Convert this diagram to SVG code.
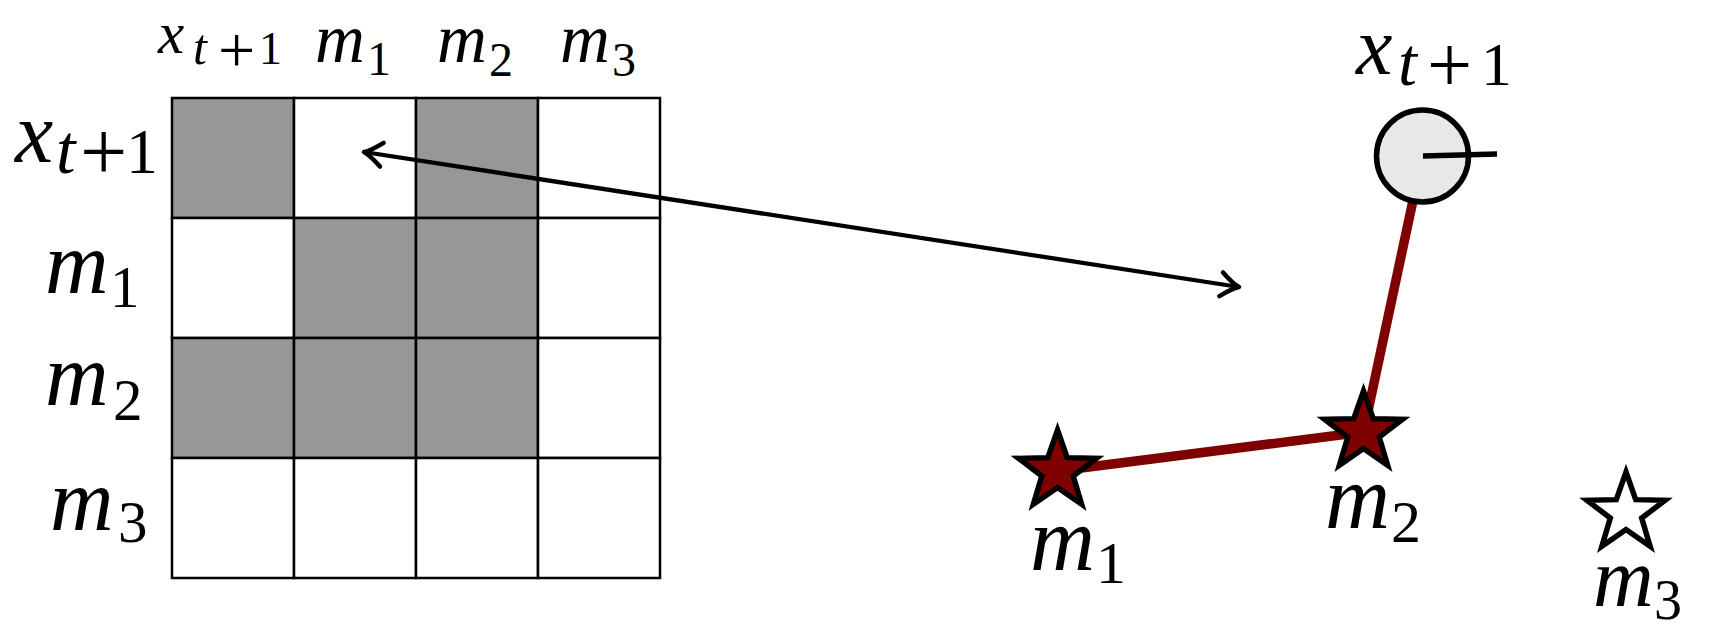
<svg xmlns="http://www.w3.org/2000/svg" width="1715" height="634" viewBox="0 0 1715 634">
  <style>
    .lbl { font-family: "Liberation Serif", "Times New Roman", serif; fill: #000; }
    .it { font-style: italic; }
    .cell { stroke: #000; stroke-width: 2.5; }
    .gray { fill: #979797; }
    .white { fill: #ffffff; }
    .red { stroke: #7f0000; stroke-width: 9.5; fill: none; stroke-linecap: butt; }
    .arrow { stroke: #000; stroke-width: 4.3; fill: none; marker-start: url(#tip); marker-end: url(#tip); }
    .star { stroke: #000; stroke-width: 5.5; stroke-linejoin: miter; }
    .starred { fill: #7f0000; }
    .starwhite { fill: #ffffff; }
    .node { fill: #e8e8e8; stroke: #000; stroke-width: 5.5; }
    .spoke { stroke: #000; stroke-width: 5.5; fill: none; }
  </style>
  <defs>
    <marker id="tip" markerUnits="userSpaceOnUse" viewBox="-22 -15 26 30" refX="0" refY="0" markerWidth="26" markerHeight="30" orient="auto-start-reverse">
      <path d="M-18,-12 Q-6,-2 0,0 Q-6,2 -18,12" fill="none" stroke="#000" stroke-width="4.5" stroke-linecap="round" stroke-linejoin="round"/>
    </marker>
    <path id="star" d="M0,-41 L9.70,-13.35 L38.99,-12.67 L15.69,5.10 L24.10,33.17 L0,16.5 L-24.10,33.17 L-15.69,5.10 L-38.99,-12.67 L-9.70,-13.35 Z"/>
  </defs>
  <rect x="0" y="0" width="1715" height="634" fill="#ffffff"/>

  <!-- matrix -->
  <g id="matrix">
    <rect class="cell gray" x="172" y="98" width="122" height="120"/>
    <rect class="cell white" x="294" y="98" width="122" height="120"/>
    <rect class="cell gray" x="416" y="98" width="122" height="120"/>
    <rect class="cell white" x="538" y="98" width="122" height="120"/>

    <rect class="cell white" x="172" y="218" width="122" height="120"/>
    <rect class="cell gray" x="294" y="218" width="122" height="120"/>
    <rect class="cell gray" x="416" y="218" width="122" height="120"/>
    <rect class="cell white" x="538" y="218" width="122" height="120"/>

    <rect class="cell gray" x="172" y="338" width="122" height="120"/>
    <rect class="cell gray" x="294" y="338" width="122" height="120"/>
    <rect class="cell gray" x="416" y="338" width="122" height="120"/>
    <rect class="cell white" x="538" y="338" width="122" height="120"/>

    <rect class="cell white" x="172" y="458" width="122" height="120"/>
    <rect class="cell white" x="294" y="458" width="122" height="120"/>
    <rect class="cell white" x="416" y="458" width="122" height="120"/>
    <rect class="cell white" x="538" y="458" width="122" height="120"/>
  </g>

  <!-- matrix column headers -->
  <g id="col-x">
    <text class="lbl"><tspan class="it" x="158" y="53" font-size="59">x</tspan><tspan class="it" x="193" y="64" font-size="50">t</tspan><tspan x="218" y="72" font-size="66">+</tspan><tspan x="259" y="64" font-size="46">1</tspan></text>
  </g>
  <g id="col-m1">
    <text class="lbl"><tspan class="it" x="315" y="62" font-size="69">m</tspan><tspan x="367" y="75" font-size="48">1</tspan></text>
  </g>
  <g id="col-m2">
    <text class="lbl"><tspan class="it" x="437" y="62" font-size="69">m</tspan><tspan x="489" y="76" font-size="48">2</tspan></text>
  </g>
  <g id="col-m3">
    <text class="lbl"><tspan class="it" x="560" y="62" font-size="69">m</tspan><tspan x="612" y="76" font-size="48">3</tspan></text>
  </g>

  <!-- matrix row headers -->
  <g id="row-x">
    <text class="lbl"><tspan class="it" x="15" y="162" font-size="86">x</tspan><tspan class="it" x="56" y="173" font-size="70">t</tspan><tspan x="80" y="180" font-size="84">+</tspan><tspan x="126" y="173" font-size="64">1</tspan></text>
  </g>
  <g id="row-m1">
    <text class="lbl"><tspan class="it" x="45" y="293" font-size="88">m</tspan><tspan x="110" y="307" font-size="59">1</tspan></text>
  </g>
  <g id="row-m2">
    <text class="lbl"><tspan class="it" x="45" y="405" font-size="88">m</tspan><tspan x="113" y="420" font-size="59">2</tspan></text>
  </g>
  <g id="row-m3">
    <text class="lbl"><tspan class="it" x="50" y="530" font-size="88">m</tspan><tspan x="118" y="542" font-size="59">3</tspan></text>
  </g>

  <!-- connectors -->
  <g id="connectors">
    <line class="arrow" x1="364" y1="152" x2="1239" y2="287"/>
    <line class="red" x1="1057.5" y1="471" x2="1363.5" y2="432"/>
    <line class="red" x1="1363.5" y1="432" x2="1422.5" y2="156"/>
  </g>

  <!-- state node x_{t+1} -->
  <g id="node-x">
    <circle class="node" cx="1422.5" cy="156" r="46"/>
    <line class="spoke" x1="1423" y1="156" x2="1497" y2="154"/>
    <text class="lbl"><tspan class="it" x="1356" y="74" font-size="82">x</tspan><tspan class="it" x="1398" y="85" font-size="68">t</tspan><tspan x="1427" y="92" font-size="80">+</tspan><tspan x="1481" y="85" font-size="62">1</tspan></text>
  </g>

  <!-- landmarks -->
  <g id="node-m1">
    <use href="#star" class="star starred" x="1057.5" y="471"/>
    <text class="lbl"><tspan class="it" x="1030" y="570" font-size="90">m</tspan><tspan x="1096" y="583" font-size="60">1</tspan></text>
  </g>
  <g id="node-m2">
    <use href="#star" class="star starred" x="1363.5" y="432"/>
    <text class="lbl"><tspan class="it" x="1325" y="528" font-size="90">m</tspan><tspan x="1391" y="542" font-size="60">2</tspan></text>
  </g>
  <g id="node-m3">
    <use href="#star" class="star starwhite" x="1626" y="513"/>
    <text class="lbl"><tspan class="it" x="1593" y="606" font-size="84">m</tspan><tspan x="1654" y="619" font-size="56">3</tspan></text>
  </g>
</svg>
